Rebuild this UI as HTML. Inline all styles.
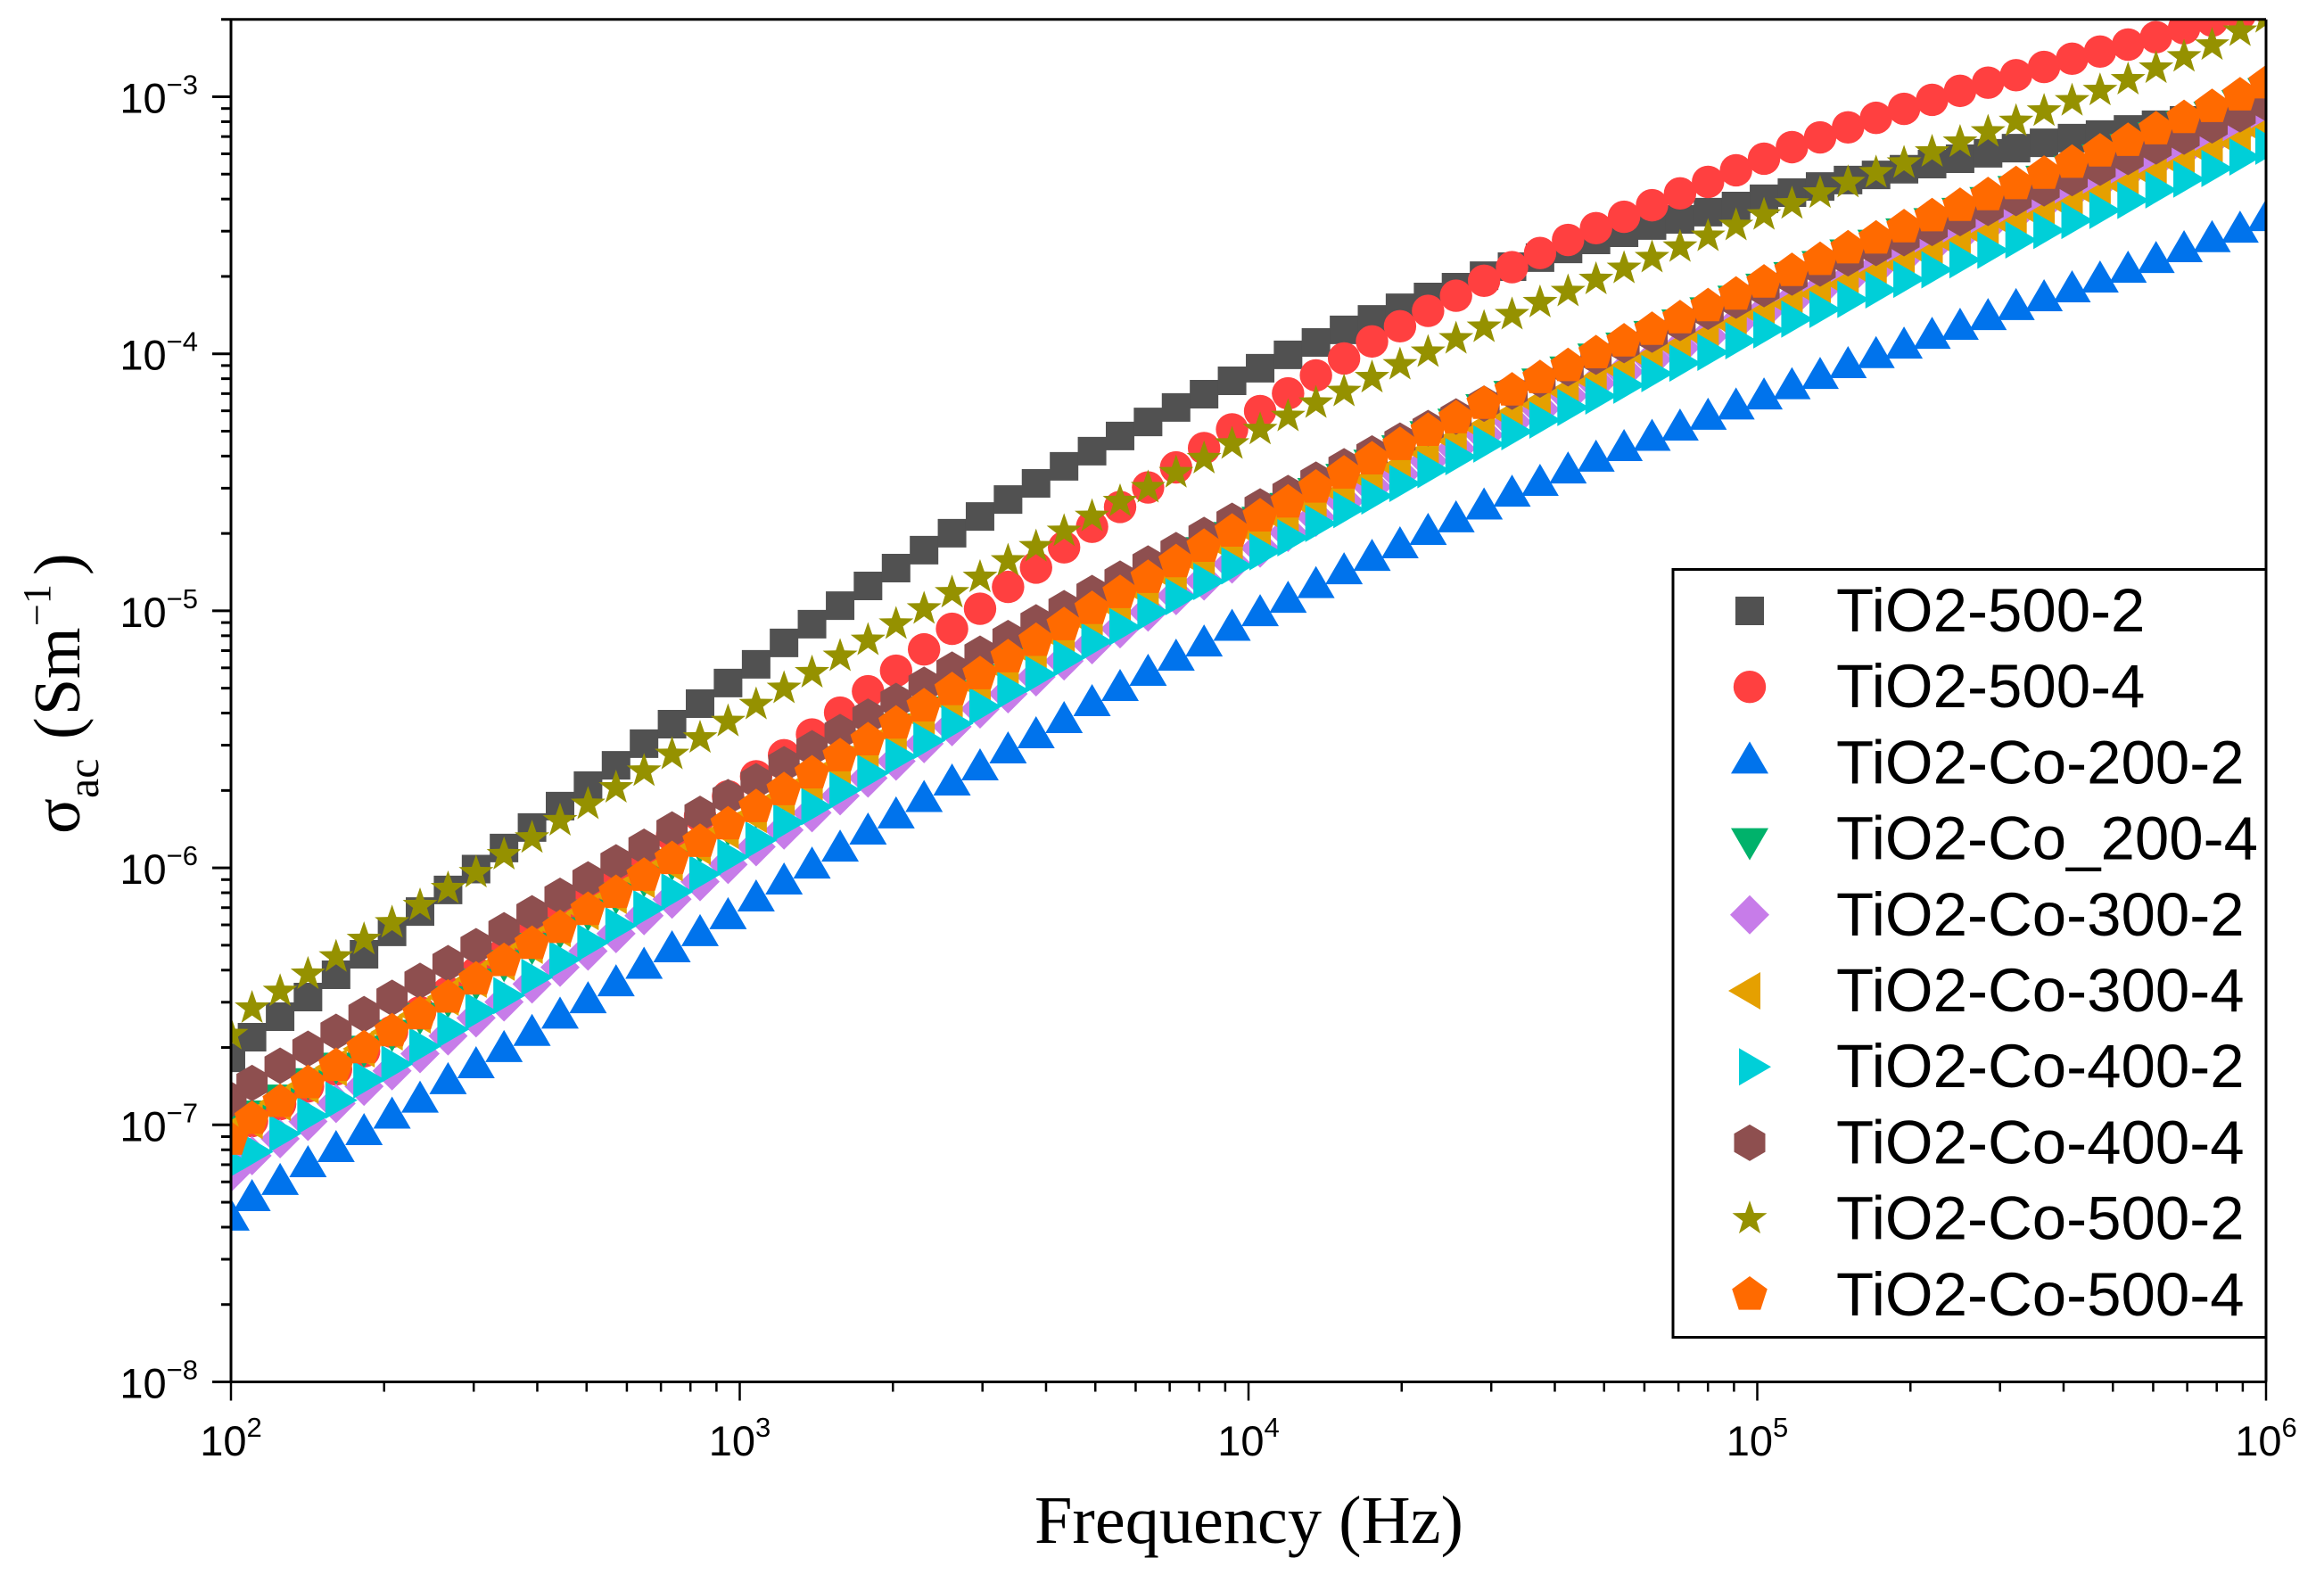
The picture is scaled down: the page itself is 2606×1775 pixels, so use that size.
<!DOCTYPE html>
<html lang="en">
<head>
<meta charset="utf-8">
<title>AC conductivity vs frequency</title>
<style>
html,body{margin:0;padding:0;background:#fff;}
svg{display:block;}
.sans{font-family:"Liberation Sans",Arial,sans-serif;}
.serif{font-family:"Liberation Serif","Times New Roman",serif;}
</style>
</head>
<body>
<svg id="chart" xmlns="http://www.w3.org/2000/svg" width="2606" height="1775" viewBox="0 0 2606 1775">
  <defs>
    <clipPath id="plot-clip"><rect x="259" y="21.7" width="2282" height="1527.8"></rect></clipPath>
  </defs>
  <rect x="0" y="0" width="2606" height="1775" fill="#ffffff"></rect>
  <g id="series-layer" clip-path="url(#plot-clip)"></g>
  <g id="axes-layer" stroke="#000" stroke-width="3"></g>
  <g id="tick-label-layer" class="sans" fill="#000"></g>
  <text class="serif" x="1160" y="1730" font-size="76.3" fill="#000">Frequency (Hz)</text>
  <text class="serif" transform="translate(89,935) rotate(-90)" font-size="74" fill="#000"><tspan x="0" y="0">σ</tspan><tspan x="40" y="21" font-size="50">ac</tspan><tspan x="106" y="0">(</tspan><tspan x="133" y="0">S</tspan><tspan x="174" y="0">m</tspan><tspan x="233" y="-33" font-size="44">−1</tspan><tspan x="290" y="0">)</tspan></text>
  <g id="legend">
    <rect x="1876" y="638.5" width="665" height="861" fill="#ffffff" stroke="#000" stroke-width="3"></rect>
    <g id="legend-markers"></g>
    <g class="sans" font-size="69" fill="#000">
      <text x="2059" y="708">TiO2-500-2</text>
      <text x="2059" y="793.2">TiO2-500-4</text>
      <text x="2059" y="878.4">TiO2-Co-200-2</text>
      <text x="2059" y="963.6">TiO2-Co_200-4</text>
      <text x="2059" y="1048.8">TiO2-Co-300-2</text>
      <text x="2059" y="1134">TiO2-Co-300-4</text>
      <text x="2059" y="1219.2">TiO2-Co-400-2</text>
      <text x="2059" y="1304.4">TiO2-Co-400-4</text>
      <text x="2059" y="1389.6">TiO2-Co-500-2</text>
      <text x="2059" y="1474.8">TiO2-Co-500-4</text>
    </g>
  </g>
</svg>
<script>
// Frequencies (Hz)
var frequencyHz = [100,110,124.9,141.7,160.9,182.6,207.3,235.3,267.1,303.2,344.1,390.6,443.4,503.3,571.3,648.5,736.1,835.6,948.5,1077,1222,1387,1575,1787,2029,2303,2614,2967,3368,3823,4340,4926,5592,6347,7205,8178,9283,10540,11960,13570,15410,17490,19850,22540,25580,29040,32960,37410,42470,48200,54720,62110,70500,80030,90840,103100,117000,132900,150800,171200,194300,220600,250400,284200,322600,366200,415700,471800,535500,607900,690000,783300,889100,1000000];

// log10 of AC conductivity (S/m) for every series
var logTiO2_500_2 = [-6.739,-6.659,-6.579,-6.503,-6.416,-6.336,-6.249,-6.170,-6.086,-6.005,-5.923,-5.843,-5.760,-5.680,-5.601,-5.517,-5.441,-5.361,-5.281,-5.208,-5.125,-5.052,-4.980,-4.903,-4.834,-4.764,-4.698,-4.633,-4.567,-4.504,-4.438,-4.379,-4.320,-4.265,-4.209,-4.157,-4.105,-4.056,-4.004,-3.956,-3.907,-3.866,-3.821,-3.779,-3.741,-3.696,-3.661,-3.626,-3.592,-3.557,-3.529,-3.501,-3.477,-3.449,-3.425,-3.397,-3.373,-3.349,-3.324,-3.304,-3.282,-3.262,-3.241,-3.220,-3.200,-3.179,-3.161,-3.147,-3.127,-3.109,-3.092,-3.075,-3.057,-3.043];
var logTiO2_500_4 = [-7.047,-6.985,-6.919,-6.850,-6.784,-6.714,-6.638,-6.562,-6.485,-6.409,-6.333,-6.256,-6.180,-6.104,-6.027,-5.951,-5.875,-5.798,-5.722,-5.644,-5.562,-5.481,-5.396,-5.313,-5.233,-5.150,-5.070,-4.992,-4.907,-4.832,-4.753,-4.673,-4.596,-4.520,-4.442,-4.367,-4.294,-4.223,-4.154,-4.084,-4.018,-3.952,-3.893,-3.833,-3.774,-3.716,-3.663,-3.608,-3.557,-3.511,-3.467,-3.422,-3.376,-3.331,-3.286,-3.241,-3.196,-3.158,-3.119,-3.082,-3.047,-3.012,-2.977,-2.945,-2.916,-2.884,-2.852,-2.824,-2.797,-2.768,-2.734,-2.704,-2.679,-2.651];
var logCo200_2 = [-7.370,-7.294,-7.231,-7.162,-7.103,-7.037,-6.973,-6.911,-6.839,-6.777,-6.714,-6.651,-6.584,-6.524,-6.458,-6.390,-6.326,-6.263,-6.197,-6.128,-6.062,-6.000,-5.934,-5.868,-5.805,-5.741,-5.677,-5.618,-5.552,-5.493,-5.434,-5.368,-5.309,-5.250,-5.191,-5.136,-5.075,-5.018,-4.966,-4.909,-4.855,-4.803,-4.754,-4.702,-4.653,-4.603,-4.553,-4.511,-4.463,-4.417,-4.376,-4.336,-4.296,-4.254,-4.214,-4.175,-4.135,-4.095,-4.053,-4.014,-3.977,-3.939,-3.904,-3.866,-3.827,-3.793,-3.758,-3.720,-3.682,-3.644,-3.602,-3.563,-3.526,-3.481];
var logCo200_4 = [-7.006,-6.947,-6.885,-6.821,-6.761,-6.695,-6.633,-6.567,-6.502,-6.434,-6.362,-6.295,-6.234,-6.165,-6.099,-6.032,-5.968,-5.901,-5.833,-5.765,-5.700,-5.635,-5.568,-5.506,-5.441,-5.375,-5.312,-5.250,-5.184,-5.121,-5.060,-4.997,-4.935,-4.876,-4.815,-4.755,-4.696,-4.637,-4.583,-4.525,-4.470,-4.415,-4.359,-4.304,-4.255,-4.199,-4.147,-4.099,-4.052,-4.002,-3.959,-3.914,-3.869,-3.822,-3.777,-3.730,-3.685,-3.642,-3.597,-3.559,-3.515,-3.475,-3.435,-3.393,-3.350,-3.310,-3.271,-3.227,-3.186,-3.141,-3.097,-3.061,-3.016,-2.969];
var logCo300_2 = [-7.186,-7.120,-7.054,-6.987,-6.917,-6.850,-6.790,-6.723,-6.654,-6.584,-6.522,-6.452,-6.387,-6.324,-6.256,-6.186,-6.122,-6.054,-5.987,-5.918,-5.853,-5.786,-5.720,-5.651,-5.585,-5.517,-5.451,-5.382,-5.323,-5.257,-5.195,-5.132,-5.070,-5.005,-4.941,-4.884,-4.818,-4.756,-4.695,-4.636,-4.575,-4.518,-4.469,-4.417,-4.369,-4.316,-4.265,-4.216,-4.164,-4.115,-4.070,-4.022,-3.977,-3.932,-3.883,-3.838,-3.793,-3.751,-3.710,-3.668,-3.623,-3.583,-3.540,-3.500,-3.456,-3.416,-3.373,-3.334,-3.293,-3.252,-3.209,-3.167,-3.123,-3.071];
var logCo300_4 = [-7.030,-6.983,-6.912,-6.846,-6.777,-6.704,-6.638,-6.572,-6.503,-6.433,-6.367,-6.301,-6.236,-6.170,-6.107,-6.045,-5.980,-5.916,-5.854,-5.792,-5.726,-5.667,-5.604,-5.542,-5.477,-5.417,-5.354,-5.292,-5.229,-5.169,-5.108,-5.045,-4.989,-4.931,-4.874,-4.816,-4.757,-4.702,-4.650,-4.594,-4.541,-4.489,-4.442,-4.383,-4.334,-4.289,-4.240,-4.195,-4.148,-4.105,-4.063,-4.018,-3.977,-3.935,-3.890,-3.848,-3.807,-3.768,-3.730,-3.694,-3.654,-3.616,-3.577,-3.540,-3.501,-3.463,-3.425,-3.387,-3.347,-3.307,-3.265,-3.220,-3.182,-3.137];
var logCo400_2 = [-7.152,-7.105,-7.034,-6.964,-6.904,-6.825,-6.763,-6.694,-6.628,-6.558,-6.497,-6.426,-6.357,-6.291,-6.225,-6.159,-6.093,-6.024,-5.958,-5.892,-5.823,-5.762,-5.698,-5.632,-5.566,-5.505,-5.439,-5.372,-5.309,-5.247,-5.184,-5.120,-5.062,-5.004,-4.945,-4.886,-4.825,-4.770,-4.716,-4.660,-4.606,-4.553,-4.504,-4.451,-4.400,-4.351,-4.303,-4.258,-4.209,-4.164,-4.122,-4.077,-4.036,-3.994,-3.949,-3.907,-3.865,-3.827,-3.788,-3.751,-3.710,-3.673,-3.634,-3.597,-3.557,-3.520,-3.481,-3.442,-3.403,-3.362,-3.320,-3.279,-3.234,-3.192];
var logCo400_4 = [-6.902,-6.837,-6.770,-6.704,-6.638,-6.569,-6.506,-6.440,-6.371,-6.305,-6.243,-6.177,-6.109,-6.045,-5.979,-5.918,-5.851,-5.790,-5.725,-5.663,-5.597,-5.535,-5.472,-5.412,-5.351,-5.288,-5.229,-5.167,-5.106,-5.045,-4.990,-4.931,-4.875,-4.816,-4.764,-4.705,-4.650,-4.594,-4.542,-4.490,-4.438,-4.388,-4.338,-4.289,-4.244,-4.194,-4.147,-4.100,-4.056,-4.011,-3.966,-3.925,-3.880,-3.836,-3.793,-3.748,-3.703,-3.668,-3.628,-3.588,-3.550,-3.510,-3.472,-3.432,-3.394,-3.356,-3.316,-3.276,-3.234,-3.193,-3.155,-3.111,-3.068,-3.025];
var logCo500_2 = [-6.649,-6.546,-6.481,-6.414,-6.347,-6.279,-6.214,-6.147,-6.081,-6.019,-5.949,-5.884,-5.817,-5.753,-5.689,-5.624,-5.559,-5.495,-5.431,-5.365,-5.302,-5.241,-5.177,-5.115,-5.052,-4.993,-4.930,-4.870,-4.806,-4.751,-4.691,-4.633,-4.575,-4.521,-4.463,-4.408,-4.351,-4.295,-4.244,-4.192,-4.147,-4.093,-4.043,-3.994,-3.942,-3.897,-3.848,-3.801,-3.758,-3.711,-3.668,-3.626,-3.585,-3.543,-3.501,-3.460,-3.417,-3.375,-3.334,-3.296,-3.258,-3.215,-3.177,-3.137,-3.096,-3.056,-3.016,-2.976,-2.934,-2.889,-2.845,-2.799,-2.745,-2.693];
var logCo500_4 = [-7.058,-6.977,-6.911,-6.838,-6.771,-6.702,-6.636,-6.570,-6.505,-6.435,-6.363,-6.296,-6.234,-6.164,-6.098,-6.031,-5.966,-5.899,-5.831,-5.764,-5.698,-5.633,-5.566,-5.504,-5.439,-5.372,-5.309,-5.247,-5.181,-5.117,-5.056,-4.993,-4.931,-4.872,-4.811,-4.751,-4.692,-4.633,-4.579,-4.521,-4.466,-4.411,-4.355,-4.300,-4.251,-4.195,-4.143,-4.095,-4.048,-3.998,-3.952,-3.907,-3.862,-3.815,-3.770,-3.723,-3.678,-3.635,-3.590,-3.552,-3.508,-3.465,-3.425,-3.383,-3.340,-3.300,-3.257,-3.213,-3.172,-3.127,-3.083,-3.040,-2.995,-2.948];

// Axis ticks
var xTickDecades = [2,3,4,5,6];
var xTickLabels = ['2','3','4','5','6'];
var yTickDecades = [-8,-7,-6,-5,-4,-3];
var yTickLabels = ['−8','−7','−6','−5','−4','−3'];
var minorMultipliers = [2,3,4,5,6,7,8,9];

var NS = 'http://www.w3.org/2000/svg';
var X0 = 259, X1 = 2541, Y0 = 1549.5, Y1 = 21.7;
var XPD = (X1 - X0) / 4, YPD = 288.2, YMAX_LOG = Math.log10(2e-3);

function xLog(l){ return X0 + (l - 2) * XPD; }
function xScale(f){ return xLog(Math.log10(f)); }
function yScale(l){ return Y0 - (l + 8) * YPD; }

function regular(n, r, startDeg, ratio){
  var pts = [], k, a, rr;
  for (k = 0; k < n; k++){
    a = (startDeg + k * 360 / n) * Math.PI / 180;
    rr = (ratio && k % 2) ? r * ratio : r;
    pts.push([rr * Math.cos(a), rr * Math.sin(a)]);
  }
  return pts;
}
var shapes = {
  square: [[-16,-16],[16,-16],[16,16],[-16,16]],
  up: [[0,-24],[21,12],[-21,12]],
  down: [[0,24],[21,-12],[-21,-12]],
  diamond: [[0,-22],[22,0],[0,22],[-22,0]],
  left: [[-24,0],[12,-21],[12,21]],
  right: [[24,0],[-12,-21],[-12,21]],
  hexagon: [[0,-20.5],[17.5,-10.25],[17.5,10.25],[0,20.5],[-17.5,10.25],[-17.5,-10.25]],
  star: regular(10, 20.5, -90, 0.4),
  pentagon: regular(5, 20.8, -90)
};

function makeMarker(shape, color, cx, cy){
  var el;
  if (shape === 'circle'){
    el = document.createElementNS(NS, 'circle');
    el.setAttribute('cx', cx.toFixed(2));
    el.setAttribute('cy', cy.toFixed(2));
    el.setAttribute('r', '18.2');
  } else {
    el = document.createElementNS(NS, 'polygon');
    el.setAttribute('points', shapes[shape].map(function(p){
      return (cx + p[0]).toFixed(2) + ',' + (cy + p[1]).toFixed(2);
    }).join(' '));
  }
  el.setAttribute('fill', color);
  return el;
}

var seriesList = [
  {key:'tio2-500-2', shape:'square', color:'#515151', values:logTiO2_500_2},
  {key:'tio2-500-4', shape:'circle', color:'#FF4040', values:logTiO2_500_4},
  {key:'tio2-co-200-2', shape:'up', color:'#0073EC', values:logCo200_2},
  {key:'tio2-co-200-4', shape:'down', color:'#00B26B', values:logCo200_4},
  {key:'tio2-co-300-2', shape:'diamond', color:'#C77CE9', values:logCo300_2},
  {key:'tio2-co-300-4', shape:'left', color:'#E5A000', values:logCo300_4},
  {key:'tio2-co-400-2', shape:'right', color:'#00CFD8', values:logCo400_2},
  {key:'tio2-co-400-4', shape:'hexagon', color:'#8E4F4F', values:logCo400_4},
  {key:'tio2-co-500-2', shape:'star', color:'#959100', values:logCo500_2},
  {key:'tio2-co-500-4', shape:'pentagon', color:'#FF6A00', values:logCo500_4}
];

var seriesLayer = document.getElementById('series-layer');
var legendMarkers = document.getElementById('legend-markers');
seriesList.forEach(function(s, idx){
  var g = document.createElementNS(NS, 'g');
  
  
  s.values.forEach(function(v, i){
    var m = makeMarker(s.shape, s.color, xScale(frequencyHz[i]), yScale(v));
    
    
    g.appendChild(m);
  });
  seriesLayer.appendChild(g);
  var lm = makeMarker(s.shape, s.color, 1962, 685 + idx * 85.2);
  
  
  legendMarkers.appendChild(lm);
});

var axes = document.getElementById('axes-layer');
function line(x1, y1, x2, y2, name, width){
  var l = document.createElementNS(NS, 'line');
  l.setAttribute('x1', x1); l.setAttribute('y1', y1);
  l.setAttribute('x2', x2); l.setAttribute('y2', y2);
  if (width) l.setAttribute('stroke-width', width);
  
  
  axes.appendChild(l);
}
line(X0, Y1, X0, Y0, 'left-spine');
line(X0, Y0, X1, Y0, 'bottom-spine');
line(X0, Y1, X1, Y1, 'top-spine');
line(X1, Y1, X1, Y0, 'right-spine');

var labels = document.getElementById('tick-label-layer');
function tickLabel(x, y, anchor, exp, name){
  var t = document.createElementNS(NS, 'text');
  t.setAttribute('x', x);
  t.setAttribute('y', y);
  t.setAttribute('text-anchor', anchor);
  t.setAttribute('font-size', '47');
  
  
  var a = document.createElementNS(NS, 'tspan');
  a.textContent = '10';
  var b = document.createElementNS(NS, 'tspan');
  b.setAttribute('dy', '-21');
  b.setAttribute('font-size', '31');
  b.textContent = exp;
  t.appendChild(a);
  t.appendChild(b);
  labels.appendChild(t);
}

xTickDecades.forEach(function(d, i){
  var x = xLog(d);
  line(x, Y0, x, Y0 + 21, 'x-major-tick', 2.5);
  tickLabel(x, 1632, 'middle', xTickLabels[i], 'x-tick-label');
  if (i < xTickDecades.length - 1){
    minorMultipliers.forEach(function(m){
      var xm = xLog(d + Math.log10(m));
      line(xm, Y0, xm, Y0 + 11, 'x-minor-tick', 2.5);
    });
  }
});
yTickDecades.forEach(function(d, i){
  var y = yScale(d);
  line(X0 - 21, y, X0, y, 'y-major-tick');
  tickLabel(222, y + 18, 'end', yTickLabels[i], 'y-tick-label');
  minorMultipliers.forEach(function(m){
    var l = d + Math.log10(m);
    if (l <= YMAX_LOG + 1e-6){
      var ym = yScale(l);
      line(X0 - 11, ym, X0, ym, 'y-minor-tick');
    }
  });
});
</script>
</body>
</html>
